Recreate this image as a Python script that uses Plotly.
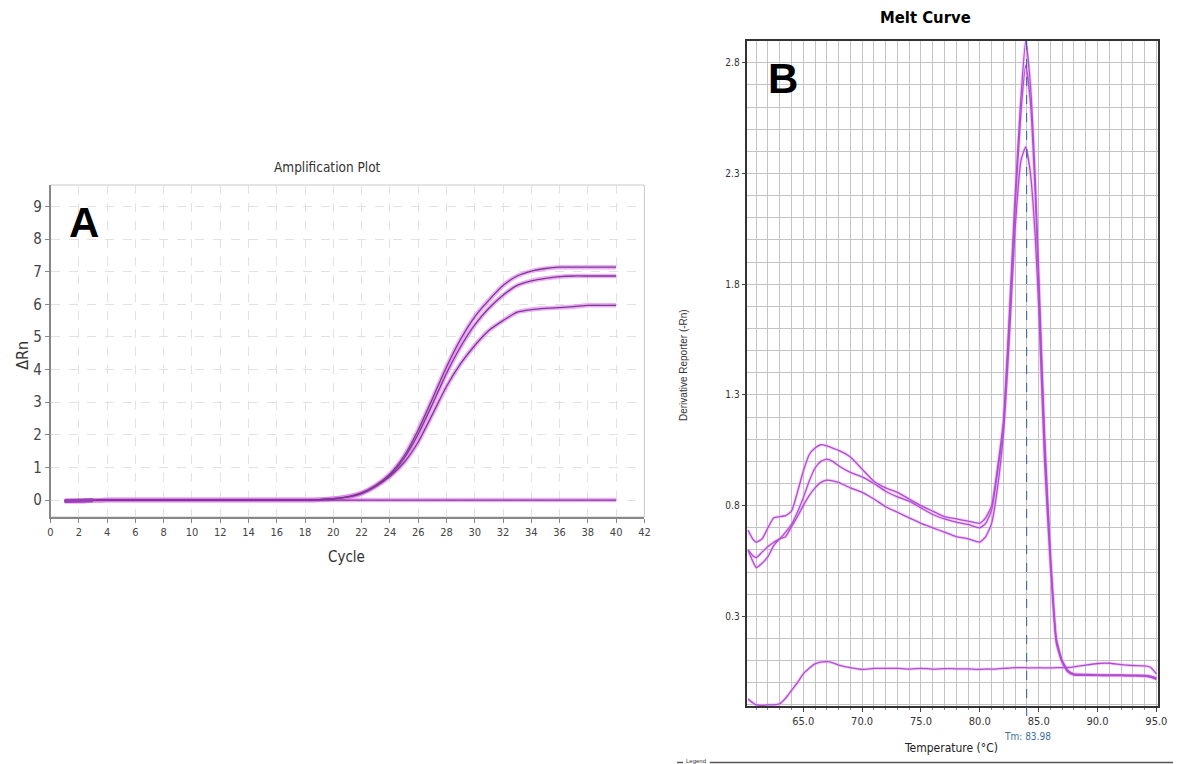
import plotly.graph_objects as go

W, H = 1182, 764

# ---------------- Panel A data: amplification plot ----------------
cycles = list(range(1, 41))
amp_upper = [-0.03, -0.03, -0.01, 0, 0, 0, 0, 0, 0, 0,
             0, 0, 0, 0, 0, 0, 0, 0, 0.01, 0.04,
             0.10, 0.22, 0.45, 0.80, 1.35, 2.15, 3.10, 4.08, 4.93, 5.62,
             6.13, 6.58, 6.87, 7.02, 7.10, 7.14, 7.14, 7.14, 7.14, 7.14]
amp_middle = [-0.03, -0.03, -0.01, 0, 0, 0, 0, 0, 0, 0,
              0, 0, 0, 0, 0, 0, 0, 0, 0.01, 0.04,
              0.10, 0.21, 0.43, 0.76, 1.28, 2.02, 2.93, 3.88, 4.70, 5.37,
              5.88, 6.28, 6.58, 6.72, 6.80, 6.85, 6.87, 6.87, 6.87, 6.87]
amp_lower = [-0.03, -0.03, -0.01, 0, 0, 0, 0, 0, 0, 0,
             0, 0, 0, 0, 0, 0, 0, 0, 0.01, 0.04,
             0.09, 0.20, 0.42, 0.72, 1.15, 1.78, 2.62, 3.48, 4.18, 4.74,
             5.20, 5.50, 5.76, 5.84, 5.88, 5.90, 5.93, 5.97, 5.97, 5.97]
amp_ntc = [-0.03, -0.03, -0.01, 0, 0, 0, 0, 0, 0, 0,
           0, 0, 0, 0, 0, 0, 0, 0, 0, 0,
           0, 0, 0, 0, 0, 0, 0, 0, 0, 0,
           0, 0, 0, 0, 0, 0, 0, 0, 0, 0]
amp_xticks = list(range(0, 43, 2))
amp_yticks = list(range(0, 10))

# ---------------- Panel B data: melt curve ----------------
temps = [60.3, 60.7, 61.0, 61.5, 62.0, 62.5, 63.0, 63.5, 64.0, 64.5,
         65.0, 65.5, 66.0, 66.5, 67.0, 67.5, 68.0, 69.0, 70.0, 71.0,
         72.0, 73.0, 74.0, 75.0, 76.0, 77.0, 78.0, 79.0, 80.0, 80.5,
         81.0, 81.5, 82.0, 82.5, 83.0, 83.5, 83.9, 84.3, 84.7, 85.0,
         85.5, 86.0, 86.5, 87.0, 87.5, 88.0, 89.0, 90.0, 91.0, 92.0,
         93.0, 94.0, 94.5, 95.0]
melt_1 = [0.69, 0.65, 0.635, 0.65, 0.70, 0.745, 0.75, 0.755, 0.775, 0.86,
          0.955, 1.03, 1.06, 1.075, 1.07, 1.06, 1.05, 1.02, 0.965, 0.91,
          0.88, 0.86, 0.83, 0.80, 0.775, 0.75, 0.74, 0.73, 0.72, 0.745,
          0.80, 0.97, 1.18, 1.65, 2.20, 2.65, 2.90, 2.70, 2.28, 1.85,
          1.12, 0.58, 0.20, 0.10, 0.055, 0.04, 0.038, 0.036, 0.035, 0.035,
          0.034, 0.033, 0.030, 0.022]
melt_2 = [0.60, 0.575, 0.565, 0.59, 0.615, 0.635, 0.65, 0.68, 0.715, 0.77,
          0.835, 0.91, 0.97, 1.00, 1.01, 1.00, 0.98, 0.95, 0.93, 0.90,
          0.865, 0.84, 0.82, 0.79, 0.76, 0.74, 0.725, 0.715, 0.70, 0.72,
          0.78, 0.95, 1.16, 1.62, 2.15, 2.58, 2.79, 2.62, 2.22, 1.80,
          1.08, 0.56, 0.19, 0.095, 0.05, 0.037, 0.035, 0.034, 0.033, 0.033,
          0.032, 0.031, 0.027, 0.018]
melt_3 = [0.60, 0.55, 0.52, 0.54, 0.57, 0.62, 0.65, 0.66, 0.705, 0.75,
          0.80, 0.845, 0.88, 0.905, 0.915, 0.912, 0.905, 0.88, 0.86, 0.83,
          0.795, 0.77, 0.745, 0.72, 0.70, 0.68, 0.66, 0.65, 0.635, 0.66,
          0.72, 0.88, 1.12, 1.55, 2.05, 2.36, 2.42, 2.30, 2.02, 1.70,
          1.00, 0.53, 0.18, 0.09, 0.048, 0.035, 0.034, 0.033, 0.032, 0.032,
          0.031, 0.030, 0.025, 0.015]
melt_ntc = [-0.074, -0.09, -0.10, -0.102, -0.10, -0.10, -0.095, -0.07, -0.035, 0.0,
            0.04, 0.065, 0.085, 0.093, 0.095, 0.09, 0.08, 0.068, 0.06, 0.065,
            0.065, 0.065, 0.062, 0.065, 0.062, 0.064, 0.063, 0.063, 0.06, 0.062,
            0.062, 0.063, 0.065, 0.066, 0.068, 0.068, 0.068, 0.067, 0.067, 0.068,
            0.067, 0.067, 0.068, 0.068, 0.069, 0.072, 0.08, 0.087, 0.088, 0.082,
            0.078, 0.076, 0.07, 0.04]
melt_xticks = [65.0, 70.0, 75.0, 80.0, 85.0, 90.0, 95.0]
melt_yticks = [0.3, 0.8, 1.3, 1.8, 2.3, 2.8]
tm_value = 83.98


def px_x(x):
    return x / W


def px_y(y):
    return 1 - y / H


NARROW = "Liberation Sans Narrow, DejaVu Sans Condensed, Arial Narrow, sans-serif"
SANS = "Liberation Sans, Arial, sans-serif"

fig = go.Figure()

# Panel A traces: soft halo then darker core
for ys in (amp_upper, amp_middle, amp_lower, amp_ntc):
    fig.add_trace(go.Scatter(x=cycles, y=ys, mode="lines", xaxis="x", yaxis="y",
                             line=dict(color="rgba(226,120,242,0.6)", width=4.5, shape="spline", smoothing=0.6),
                             hoverinfo="skip", showlegend=False))
for ys in (amp_upper, amp_middle, amp_lower, amp_ntc):
    fig.add_trace(go.Scatter(x=cycles, y=ys, mode="lines", xaxis="x", yaxis="y",
                             line=dict(color="#7a3c8e", width=1.3, shape="spline", smoothing=0.6),
                             showlegend=False))
fig.add_trace(go.Scatter(x=cycles[:3], y=amp_ntc[:3], mode="lines", xaxis="x", yaxis="y",
                         line=dict(color="#9a3fb8", width=4), showlegend=False, hoverinfo="skip"))

# Panel B traces
for ys in (melt_1, melt_2, melt_3, melt_ntc):
    fig.add_trace(go.Scatter(x=temps, y=ys, mode="lines", xaxis="x2", yaxis="y2",
                             line=dict(color="rgba(235,150,248,0.45)", width=3.2, shape="spline", smoothing=0.5),
                             hoverinfo="skip", showlegend=False))
for ys in (melt_1, melt_2, melt_3, melt_ntc):
    fig.add_trace(go.Scatter(x=temps, y=ys, mode="lines", xaxis="x2", yaxis="y2",
                             line=dict(color="#ad4fcf", width=1.3, shape="spline", smoothing=0.5),
                             showlegend=False))

xA = [48, 648]
yA = [185, 517]
xB = [752, 1167]
yB = [40.7, 706]

fig.update_layout(
    width=W, height=H,
    margin=dict(l=0, r=0, t=0, b=0),
    paper_bgcolor="white", plot_bgcolor="white",
    showlegend=False,
    xaxis=dict(domain=[px_x(xA[0]), px_x(xA[1])], anchor="y", range=[0, 42],
               tickvals=amp_xticks, ticks="outside", ticklen=4, tickcolor="#888",
               showline=True, linecolor="#888", linewidth=1.5, mirror=False,
               showgrid=True, gridcolor="#e2e2e2", griddash="dash", gridwidth=1,
               zeroline=False, tickfont=dict(family=NARROW, size=11, color="#444")),
    yaxis=dict(domain=[px_y(yA[1]), px_y(yA[0])], anchor="x", range=[-0.52, 9.66],
               tickvals=amp_yticks, ticks="outside", ticklen=4, tickcolor="#888",
               showline=True, linecolor="#888", linewidth=1.5,
               showgrid=True, gridcolor="#e2e2e2", griddash="dash", gridwidth=1,
               zeroline=False, tickfont=dict(family=NARROW, size=15, color="#444")),
    xaxis2=dict(domain=[px_x(xB[0]), px_x(xB[1])], anchor="y2", range=[60.25, 95.15],
                tickvals=melt_xticks, ticktext=[f"{v:.1f}" for v in melt_xticks],
                ticks="outside", ticklen=4, tickcolor="#444",
                showline=True, linecolor="#333", linewidth=1.5, mirror=True,
                showgrid=True, gridcolor="#c4c4c4", gridwidth=1,
                minor=dict(tickmode="linear", tick0=60, dtick=1, showgrid=True,
                           gridcolor="#c4c4c4", gridwidth=1, ticks="outside", ticklen=2, tickcolor="#888"),
                zeroline=False, tickfont=dict(family=NARROW, size=11, color="#333")),
    yaxis2=dict(domain=[px_y(yB[1]), px_y(yB[0])], anchor="x2", range=[-0.105, 2.9],
                tickvals=melt_yticks, ticktext=[f"{v:.1f}" for v in melt_yticks],
                ticks="outside", ticklen=4, tickcolor="#444",
                showline=True, linecolor="#333", linewidth=1.5, mirror=True,
                showgrid=True, gridcolor="#c4c4c4", gridwidth=1,
                minor=dict(tickmode="linear", tick0=0, dtick=0.1, showgrid=True,
                           gridcolor="#c4c4c4", gridwidth=1),
                zeroline=False, tickfont=dict(family=NARROW, size=10, color="#333")),
)

# light frame on top/right of panel A
fig.add_shape(type="rect", xref="paper", yref="paper",
              x0=px_x(xA[0]), x1=px_x(xA[1]), y0=px_y(yA[1]), y1=px_y(yA[0]),
              line=dict(color="#c8c8c8", width=1), layer="below")

# Tm marker line
fig.add_shape(type="line", xref="x2", yref="paper", x0=tm_value, x1=tm_value,
              y0=px_y(yB[1]) - 10 / H, y1=px_y(yB[0]),
              line=dict(color="#2f5f96", width=1, dash="dash"))

# Legend bar at bottom
fig.add_shape(type="line", xref="paper", yref="paper", x0=px_x(681), x1=px_x(687),
              y0=px_y(762.5), y1=px_y(762.5), line=dict(color="#555", width=1.5))
fig.add_shape(type="line", xref="paper", yref="paper", x0=px_x(714), x1=1,
              y0=px_y(762.5), y1=px_y(762.5), line=dict(color="#555", width=1.5))

annots = [
    dict(text="Amplification Plot", x=328, y=167, size=13.5, family=NARROW, color="#333", bold=False),
    dict(text="Cycle", x=347, y=557, size=15, family=NARROW, color="#333", bold=False),
    dict(text="A", x=82, y=222, size=42, family=SANS, color="black", bold=True),
    dict(text="Melt Curve", x=932, y=18, size=16.5, family=NARROW, color="black", bold=True),
    dict(text="B", x=788, y=79, size=42, family=SANS, color="black", bold=True),
    dict(text="Temperature (°C)", x=958, y=748, size=12, family=NARROW, color="#222", bold=False),
    dict(text="Tm: 83.98", x=1035, y=736, size=10, family=NARROW, color="#3a6ea5", bold=False),
    dict(text="Legend", x=700, y=761, size=6, family=SANS, color="#333", bold=False),
]
for a in annots:
    txt = f"<b>{a['text']}</b>" if a["bold"] else a["text"]
    fig.add_annotation(text=txt, x=px_x(a["x"]), y=px_y(a["y"]), xref="paper", yref="paper",
                       showarrow=False, xanchor="center", yanchor="middle",
                       font=dict(family=a["family"], size=a["size"], color=a["color"]))

fig.add_annotation(text="ΔRn", x=px_x(20), y=px_y(355), xref="paper", yref="paper",
                   showarrow=False, textangle=-90, xanchor="center", yanchor="middle",
                   font=dict(family=NARROW, size=16, color="#333"))
fig.add_annotation(text="Derivative Reporter (-Rn)", x=px_x(688), y=px_y(365), xref="paper", yref="paper",
                   showarrow=False, textangle=-90, xanchor="center", yanchor="middle",
                   font=dict(family=SANS, size=10, color="#333"))

fig.write_html("out.html")
